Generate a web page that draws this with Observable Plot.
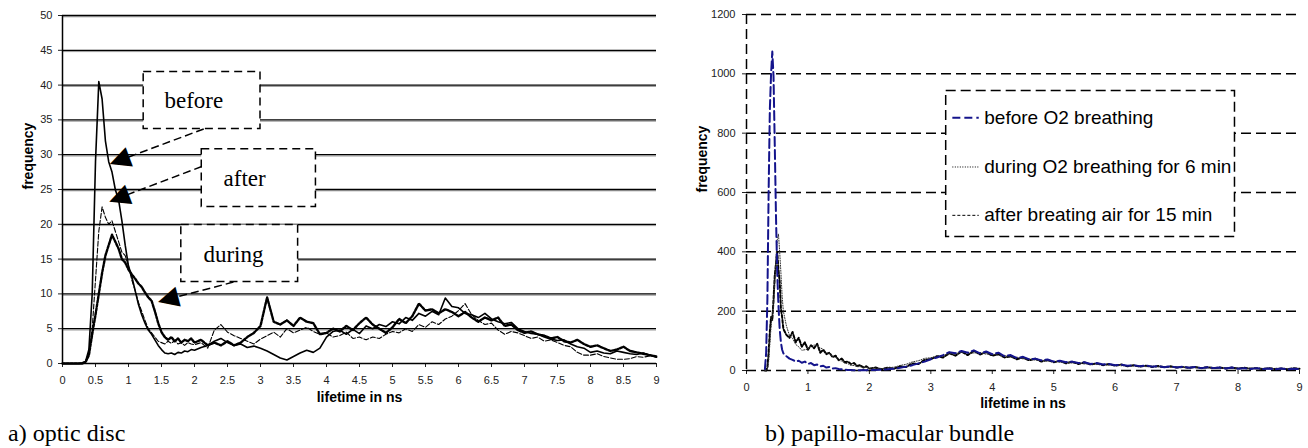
<!DOCTYPE html>
<html><head><meta charset="utf-8">
<script src="https://cdn.jsdelivr.net/npm/d3@7"></script>
<script src="https://cdn.jsdelivr.net/npm/@observablehq/plot@0.6"></script>
<style>
body{margin:0;background:#fff;}
#wrap{position:relative;width:1308px;height:448px;overflow:hidden;background:#fff;}
#left{position:absolute;left:0;top:0;}
#right{position:absolute;left:680px;top:0;}
.cap{position:absolute;font-family:"Liberation Serif","Times New Roman",serif;font-size:24px;line-height:24px;color:#000;white-space:nowrap;}
</style></head><body>
<div id="wrap"><div id="left"></div><div id="right"></div>
<div class="cap" style="left:8px;top:421px">a) optic disc</div>
<div class="cap" style="left:765px;top:421px">b) papillo-macular bundle</div>
</div>
<script>
// ---------- Panel a) optic disc ----------
const leftX = [0,0.05,0.1,0.15,0.2,0.25,0.3,0.35,0.4,0.45,0.5,0.55,0.6,0.65,0.7,0.75,0.8,0.85,0.9,0.95,
  1,1.05,1.1,1.15,1.2,1.25,1.3,1.35,1.4,1.45,1.5,1.55,1.6,1.65,1.7,1.75,1.8,1.85,1.9,1.95,2,
  2.1,2.2,2.3,2.4,2.5,2.6,2.7,2.8,2.9,3,3.1,3.2,3.3,3.4,3.5,3.6,3.7,3.8,3.9,4,
  4.1,4.2,4.3,4.4,4.5,4.6,4.7,4.8,4.9,5,5.1,5.2,5.3,5.4,5.5,5.6,5.7,5.8,5.9,6,
  6.1,6.2,6.3,6.4,6.5,6.6,6.7,6.8,6.9,7,7.1,7.2,7.3,7.4,7.5,7.6,7.7,7.8,7.9,8,
  8.1,8.2,8.3,8.4,8.5,8.6,8.7,8.8,8.9,9];
const leftBefore = [0,0,0,0,0,0,0.1,0.3,2,10,29,40.5,38,32,29,27.5,25,23.5,20.5,17,
  14,12.5,10.5,8.5,7,5.8,4.8,4.2,3.4,2.6,2.0,1.5,1.4,1.5,1.3,1.6,1.5,1.8,1.7,2.0,1.9,
  2.3,2.6,3.2,3.6,3.0,2.6,2.8,2.3,2.5,2.2,1.8,1.3,0.8,0.5,1.0,1.5,1.9,1.6,2.2,3.8,
  4.6,4.8,4.2,4.9,4.3,5.4,5.0,5.6,5.3,6.0,5.7,6.6,6.2,7.2,6.8,7.5,7.0,9.4,8.2,8.0,
  7.2,7.0,6.6,7.2,6.4,6.0,5.7,5.9,5.0,4.6,4.3,4.2,3.8,3.5,3.3,3.4,2.8,2.4,2.2,1.6,
  1.8,1.5,1.4,1.8,1.6,1.4,1.3,1.5,1.2,0.9];
const leftAfter = [0,0,0,0,0,0,0,0.3,1.5,5,12,19,22.5,21,20,20.5,19,17.5,16,15.5,
  14,12,10.5,8.8,7.5,6.2,5.0,4.4,3.8,3.2,3.0,2.8,3.2,2.9,3.3,2.8,3.0,2.6,3.0,2.8,2.7,
  3.0,2.2,4.8,5.6,4.5,4.0,3.6,3.2,2.8,3.5,4.0,4.5,3.8,5.0,4.4,4.8,5.2,4.6,4.2,4.4,
  3.8,4.0,4.5,3.6,3.8,3.4,3.8,3.6,4.2,4.6,4.4,5.0,4.6,5.6,5.2,6.0,5.6,6.4,6.8,7.6,
  8.6,7.0,6.2,5.6,5.8,4.8,4.2,4.6,4.4,4.0,3.6,3.8,3.2,3.4,3.0,2.6,2.4,1.6,1.2,1.2,
  1.4,1.0,0.8,0.6,0.6,0.7,1.0,0.9,1.1,1.0];
const leftDuring = [0,0,0,0,0,0,0,0.2,1.2,4.2,7,10,13,15.5,17,18.5,17.5,16.5,15,14.5,
  13.5,12.8,12.2,11.5,11,10.2,9.5,9,7.5,5.8,4.5,3.8,3.4,3.8,3.2,3.6,3.0,3.4,3.2,3.6,3.0,
  3.4,2.6,3.0,2.6,3.2,2.6,3.0,3.8,4.4,5.4,9.5,6.0,5.6,6.2,5.4,6.6,6.0,5.8,4.2,4.4,
  5.0,4.6,5.4,4.8,5.8,6.6,5.6,5.0,4.4,5.2,6.4,5.8,6.8,8.6,7.6,7.8,7.2,7.8,7.4,6.8,
  7.4,6.6,6.0,6.6,6.2,6.6,5.4,5.6,4.8,4.4,4.6,4.2,4.0,3.6,3.8,3.2,3.0,3.4,2.8,2.4,
  2.6,2.2,1.8,2.0,2.4,1.8,1.6,1.4,1.2,1.0];
const leftXTicks = [0,0.5,1,1.5,2,2.5,3,3.5,4,4.5,5,5.5,6,6.5,7,7.5,8,8.5,9];
const leftYTicks = [0,5,10,15,20,25,30,35,40,45,50];

// annotation boxes (data units)
const annLabel = ["before","after","during"];
const annBoxX1 = [1.23, 2.11, 1.80];
const annBoxX2 = [3.00, 3.84, 3.57];
const annBoxY1 = [33.7, 22.5, 11.7];
const annBoxY2 = [41.9, 30.8, 19.9];
const annTextX = [1.99, 2.76, 2.59];
const annTextY = [37.7, 26.6, 15.6];
const arrowX1 = [2.14, 2.11, 2.59];
const arrowY1 = [33.7, 28.3, 11.7];
const arrowX2 = [0.70, 0.69, 1.43];
const arrowY2 = [28.6, 23.2, 8.8];

// ---------- Panel b) papillo-macular bundle ----------
const rightX = [0.30,0.32,0.34,0.36,0.38,0.40,0.42,0.44,0.46,0.48,0.50,0.52,0.54,0.56,0.58,0.60,
  0.65,0.7,0.75,0.8,0.85,0.9,0.95,1,1.05,1.1,1.15,1.2,1.25,1.3,1.35,1.4,1.45,1.5,1.55,1.6,1.65,1.7,1.75,1.8,1.85,1.9,1.95,2,
  2.1,2.2,2.3,2.4,2.5,2.6,2.7,2.8,2.9,3,3.1,3.2,3.3,3.4,3.5,3.6,3.7,3.8,3.9,4,
  4.1,4.2,4.3,4.4,4.5,4.6,4.7,4.8,4.9,5,5.1,5.2,5.3,5.4,5.5,5.6,5.7,5.8,5.9,6,
  6.1,6.2,6.3,6.4,6.5,6.6,6.7,6.8,6.9,7,7.1,7.2,7.3,7.4,7.5,7.6,7.7,7.8,7.9,8,
  8.1,8.2,8.3,8.4,8.5,8.6,8.7,8.8,8.9,9];
const rightBefore = [5,60,240,600,880,1000,1075,990,760,520,330,220,140,95,70,58,
  48,40,36,30,33,26,30,22,25,18,20,14,16,10,12,7,8,5,4,3,2,2,1,1,1,2,1,2,
  2,3,4,6,9,13,18,24,30,38,44,52,62,58,66,60,68,58,64,55,
  60,48,52,42,46,38,40,34,37,30,33,28,30,25,28,22,25,20,22,18,
  20,16,18,14,17,13,15,11,14,10,13,9,12,8,11,8,10,7,10,6,
  8,5,8,5,7,4,7,4,6,5];
const rightDuring = [0,0,5,30,90,150,190,220,300,380,440,460,400,330,250,200,
  150,118,108,88,80,68,70,72,82,86,84,76,72,60,57,46,44,34,32,24,23,17,17,13,13,10,11,8,
  8,6,10,11,17,21,29,33,41,43,49,51,57,56,62,60,59,61,55,56,
  51,51,45,45,39,39,35,35,31,31,28,28,25,25,22,23,20,21,18,19,
  16,17,15,16,13,15,12,13,11,12,10,11,9,10,8,10,7,9,7,8,
  6,8,5,7,5,7,4,6,5,5];
const rightAfter = [0,0,10,60,130,180,170,240,320,360,400,340,300,210,180,140,
  120,110,130,95,110,80,95,70,85,75,90,60,70,55,60,45,50,35,40,28,30,22,25,15,18,10,14,6,
  10,4,10,6,14,12,24,22,36,38,48,44,58,50,64,52,66,54,62,50,
  55,44,48,38,44,34,40,30,36,28,32,24,30,22,27,20,24,18,22,16,
  20,14,18,13,16,12,15,11,14,10,12,9,12,8,11,8,10,7,10,6,
  9,6,8,5,8,5,7,4,8,6];
const rightXTicks = [0,1,2,3,4,5,6,7,8,9];
const rightYTicks = [0,200,400,600,800,1000,1200];
const legendLabels = ["before O2 breathing","during O2 breathing for 6 min","after breating air for 15 min"];
const legendY = [852, 686, 523];
const legendBox = {x1: 3.25, x2: 7.95, y1: 450, y2: 942};
const legendSampleX = [3.35, 3.78];
const legendTextX = 3.87;

// ---------- build ----------
const sans = "'Liberation Sans', Arial, Helvetica, sans-serif";
const serif = "'Liberation Serif', 'Times New Roman', serif";
const fmt = d => String(d);
const rows = (xs, ys) => xs.map((x, i) => ({x, y: ys[i]}));

const W1 = 664, H1 = 415, ml1 = 62, mr1 = 8, mt1 = 15, mb1 = 52;
const kx = (W1 - ml1 - mr1) / 9, ky = (H1 - mt1 - mb1) / 50;
const ann = annLabel.map((t, i) => {
  const sx = (arrowX2[i] - arrowX1[i]) * kx, sy = -(arrowY2[i] - arrowY1[i]) * ky;
  const len = Math.hypot(sx, sy), ux = sx / len, uy = sy / len;
  const back = 10;
  return {
    t, bx1: annBoxX1[i], bx2: annBoxX2[i], by1: annBoxY1[i], by2: annBoxY2[i],
    tx: annTextX[i], ty: annTextY[i],
    ax1: arrowX1[i], ay1: arrowY1[i],
    hx: arrowX2[i] - ux * back / kx, hy: arrowY2[i] + uy * back / ky,
    r: Math.atan2(uy, ux) * 180 / Math.PI + 90
  };
});

const left = Plot.plot({
  width: W1, height: H1, marginLeft: ml1, marginRight: mr1, marginTop: mt1, marginBottom: mb1,
  style: {fontFamily: sans, fontSize: "11px", color: "#222", background: "#fff", overflow: "visible"},
  x: {domain: [0, 9], ticks: leftXTicks, tickFormat: fmt, tickSize: 4, tickPadding: 9, label: null},
  y: {domain: [0, 50], ticks: leftYTicks, tickFormat: fmt, tickSize: 4, tickPadding: 6, label: null},
  marks: [
    Plot.ruleY(leftYTicks.filter(d => d > 0), {stroke: "#999", strokeWidth: 1, dy: 1.3}),
    Plot.ruleY(leftYTicks, {stroke: "#000", strokeWidth: 1.3}),
    Plot.ruleX([0], {stroke: "#000", strokeWidth: 1.5}),
    Plot.line(rows(leftX, leftAfter), {x: "x", y: "y", stroke: "#000", strokeWidth: 1.1, strokeDasharray: "5,2"}),
    Plot.line(rows(leftX, leftDuring), {x: "x", y: "y", stroke: "#000", strokeWidth: 2.4, strokeDasharray: "2.5,1.5"}),
    Plot.line(rows(leftX, leftBefore), {x: "x", y: "y", stroke: "#000", strokeWidth: 1.6}),
    Plot.rect(ann, {x1: "bx1", x2: "bx2", y1: "by1", y2: "by2", fill: "#fff", stroke: "#000", strokeWidth: 1.5, strokeDasharray: "8,5"}),
    Plot.link(ann, {x1: "ax1", y1: "ay1", x2: "hx", y2: "hy", stroke: "#000", strokeWidth: 1.5, strokeDasharray: "8,4"}),
    Plot.text(ann, {x: "hx", y: "hy", text: () => "\u25B2", rotate: "r", fontSize: 27, fontFamily: "'DejaVu Sans'", fill: "#000"}),
    Plot.text(ann, {x: "tx", y: "ty", text: "t", fontSize: 23, fontFamily: serif, fill: "#000"}),
    Plot.text(["lifetime in ns"], {frameAnchor: "bottom", dy: 38, text: d => d, fontWeight: "bold", fontSize: 14, fill: "#000"}),
    Plot.text(["frequency"], {frameAnchor: "left", dx: -34, rotate: -90, text: d => d, fontWeight: "bold", fontSize: 14, fill: "#000"})
  ]
});
document.getElementById("left").appendChild(left);

const legendRows = legendLabels.map((t, i) => ({t, y: legendY[i]}));
const right = Plot.plot({
  width: 628, height: 415, marginLeft: 66, marginRight: 9, marginTop: 14, marginBottom: 45,
  style: {fontFamily: sans, fontSize: "11px", color: "#222", background: "#fff", overflow: "visible"},
  x: {domain: [0, 9], ticks: rightXTicks, tickFormat: fmt, tickSize: 4, tickPadding: 9, label: null},
  y: {domain: [0, 1200], ticks: rightYTicks, tickFormat: fmt, tickSize: 4, tickPadding: 7, label: null},
  marks: [
    Plot.ruleY(rightYTicks, {stroke: "#000", strokeWidth: 1.5, strokeDasharray: "10,5"}),
    Plot.ruleX([0], {stroke: "#000", strokeWidth: 1.5, strokeDasharray: "10,5"}),
    Plot.rect([legendBox], {x1: "x1", x2: "x2", y1: "y1", y2: "y2", fill: "#fff", stroke: "#000", strokeWidth: 1.5, strokeDasharray: "10,5"}),
    Plot.line(rows(rightX, rightAfter), {x: "x", y: "y", stroke: "#000", strokeWidth: 2, strokeDasharray: "3,2"}),
    Plot.line(rows(rightX, rightDuring), {x: "x", y: "y", stroke: "#333", strokeWidth: 1, strokeDasharray: "1,1.5"}),
    Plot.line(rows(rightX, rightBefore), {x: "x", y: "y", stroke: "#14148c", strokeWidth: 2, strokeDasharray: "9,4"}),
    Plot.link([legendRows[0]], {x1: () => legendSampleX[0], x2: () => legendSampleX[1], y1: "y", y2: "y", stroke: "#14148c", strokeWidth: 2, strokeDasharray: "8,4"}),
    Plot.link([legendRows[1]], {x1: () => legendSampleX[0], x2: () => legendSampleX[1], y1: "y", y2: "y", stroke: "#000", strokeWidth: 1, strokeDasharray: "1,1.5"}),
    Plot.link([legendRows[2]], {x1: () => legendSampleX[0], x2: () => legendSampleX[1], y1: "y", y2: "y", stroke: "#000", strokeWidth: 1, strokeDasharray: "3,2"}),
    Plot.text(legendRows, {x: () => legendTextX, y: "y", text: "t", textAnchor: "start", fontSize: 19, fill: "#000"}),
    Plot.text(["lifetime in ns"], {frameAnchor: "bottom", dy: 37, text: d => d, fontWeight: "bold", fontSize: 14, fill: "#000"}),
    Plot.text(["frequency"], {frameAnchor: "left", dx: -44, rotate: -90, text: d => d, fontWeight: "bold", fontSize: 14, fill: "#000"})
  ]
});
document.getElementById("right").appendChild(right);
</script>
</body></html>
